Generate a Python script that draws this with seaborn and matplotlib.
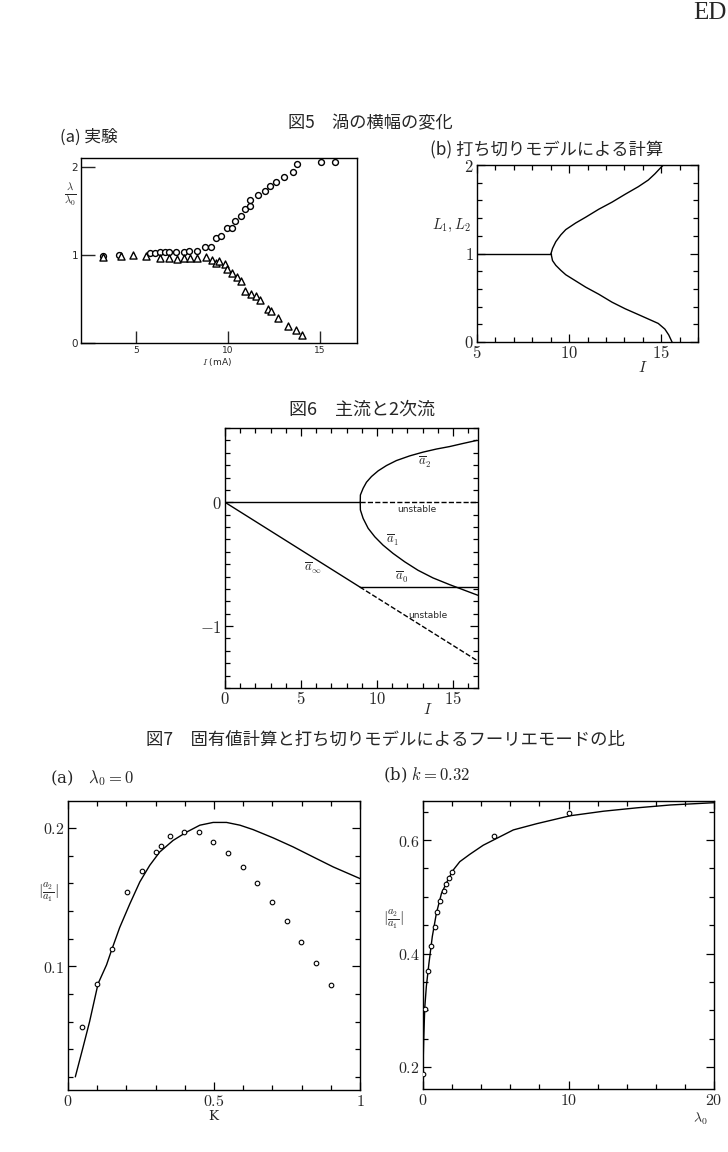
import numpy as np
import pandas as pd
import matplotlib
matplotlib.use("Agg")
import matplotlib.pyplot as plt
from matplotlib.ticker import MultipleLocator, FuncFormatter
import seaborn as sns

# ---- Fig.5 (a) experiment: vortex width ratio vs current ----
circ_I = [3.2, 4.05, 5.74, 6.0, 6.3, 6.55, 6.8, 7.15, 7.58, 7.86, 8.3, 8.73, 9.05,
          9.34, 9.63, 9.92, 10.2, 10.39, 10.68, 10.93, 11.2, 11.2, 11.61, 12.0,
          12.26, 12.58, 13.05, 13.52, 13.74, 15.07, 15.83]
circ_L = [0.99, 1.0, 1.02, 1.02, 1.03, 1.03, 1.03, 1.03, 1.03, 1.04, 1.04, 1.09, 1.09,
          1.19, 1.22, 1.30, 1.30, 1.38, 1.44, 1.52, 1.56, 1.62, 1.68, 1.72,
          1.78, 1.83, 1.89, 1.94, 2.03, 2.05, 2.05]
tri_I = [3.2, 4.15, 4.8, 5.52, 6.28, 6.78, 7.22, 7.6, 7.93, 8.33, 8.77, 9.12, 9.34,
         9.5, 9.81, 9.92, 10.2, 10.46, 10.68, 10.93, 11.25, 11.5, 11.72, 12.19,
         12.34, 12.69, 13.23, 13.67, 14.03]
tri_L = [0.98, 0.99, 1.0, 0.99, 0.96, 0.96, 0.95, 0.96, 0.97, 0.97, 0.98, 0.94, 0.91,
         0.93, 0.90, 0.84, 0.80, 0.75, 0.70, 0.59, 0.56, 0.53, 0.49, 0.39,
         0.36, 0.28, 0.19, 0.15, 0.09]

# ---- Fig.5 (b) truncated model ----
flat_I = [5.0, 9.02]
flat_L = [1.0, 1.0]
up_I = [9.02, 9.10, 9.28, 9.55, 9.82, 10.36, 10.90, 11.61, 12.33, 13.05, 13.76,
        14.30, 14.66, 14.93, 15.12]
up_L = [1.0, 1.057, 1.134, 1.21, 1.27, 1.345, 1.41, 1.50, 1.58, 1.67, 1.755,
        1.83, 1.90, 1.96, 2.0]
lo_I = [9.02, 9.10, 9.28, 9.55, 9.82, 10.36, 10.90, 11.61, 12.33, 13.05, 13.76,
        14.30, 14.84, 15.2, 15.41, 15.59]
lo_L = [1.0, 0.92, 0.866, 0.81, 0.76, 0.69, 0.62, 0.54, 0.45, 0.375, 0.31,
        0.26, 0.21, 0.146, 0.08, 0.0]

# ---- Fig.6 main flow and secondary flow ----
zero_I = [0.0, 8.9]
zero_unst_I = [8.9, 16.65]
ainf_I = [0.0, 8.87]
ainf_a = [0.0, -0.684]
ainf_unst_I = [8.87, 16.65]
ainf_unst_a = [-0.684, -1.283]
a0_I = [8.87, 16.65]
a0_a = [-0.684, -0.684]
a2_I = [8.9, 8.91, 9.09, 9.31, 9.64, 10.08, 10.63, 11.28, 12.16, 13.03, 13.91,
        14.78, 15.66, 16.58]
a2_a = [0.0, 0.059, 0.113, 0.162, 0.208, 0.254, 0.297, 0.337, 0.375, 0.405, 0.43,
        0.45, 0.475, 0.50]
a1_I = [8.9, 8.91, 9.09, 9.42, 9.86, 10.4, 11.06, 11.83, 12.7, 13.69, 14.78,
        15.88, 16.64]
a1_a = [0.0, -0.062, -0.13, -0.21, -0.279, -0.346, -0.413, -0.481, -0.549, -0.611,
        -0.665, -0.716, -0.751]

# ---- Fig.7 (a) lambda0 = 0 ----
K_curve = [0.025, 0.051, 0.074, 0.103, 0.132, 0.149, 0.177, 0.2115, 0.246, 0.280,
           0.314, 0.36, 0.406, 0.4515, 0.497, 0.543, 0.589, 0.634, 0.703, 0.771,
           0.840, 0.9085, 1.0]
ra_curve = [0.02, 0.041, 0.06, 0.0874, 0.101, 0.1115, 0.128, 0.145, 0.161, 0.173,
            0.1826, 0.191, 0.197, 0.202, 0.204, 0.204, 0.202, 0.1988, 0.1928, 0.1863,
            0.179, 0.1718, 0.1634]
K_pts = [0.049, 0.0995, 0.149, 0.202, 0.252, 0.30, 0.32, 0.349, 0.398, 0.448, 0.497,
         0.549, 0.598, 0.648, 0.698, 0.749, 0.799, 0.849, 0.902]
ra_pts = [0.056, 0.0874, 0.1125, 0.154, 0.169, 0.1827, 0.187, 0.1942, 0.197, 0.197, 0.190,
          0.182, 0.1716, 0.160, 0.1467, 0.1327, 0.1178, 0.102, 0.0862]

# ---- Fig.7 (b) k = 0.32 ----
lam_curve = [0.0, 0.05, 0.12, 0.23, 0.41, 0.64, 0.92, 1.27, 1.66, 2.07, 2.53, 3.22,
             4.14, 5.06, 6.21, 7.82, 10.12, 12.41, 14.72, 17.01, 20.0]
rb_curve = [0.20, 0.25, 0.304, 0.342, 0.383, 0.43, 0.471, 0.506, 0.527, 0.547, 0.562,
            0.575, 0.591, 0.603, 0.618, 0.629, 0.643, 0.651, 0.657, 0.662, 0.666]
lam_pts = [0.0, 0.12, 0.35, 0.58, 0.81, 0.99, 1.2, 1.43, 1.61, 1.80, 2.0, 4.88, 10.05]
rb_pts = [0.188, 0.302, 0.37, 0.414, 0.447, 0.473, 0.493, 0.51, 0.523, 0.534, 0.544,
          0.608, 0.647]

W, H = 728, 1152
JP = ['Noto Sans CJK JP', 'DejaVu Sans']

sns.set_style('white')
plt.rcParams['font.family'] = ['DejaVu Serif', 'Noto Sans CJK JP']
plt.rcParams['mathtext.fontset'] = 'cm'
plt.rcParams['axes.linewidth'] = 1.0
plt.rcParams['axes.edgecolor'] = 'black'

fig = plt.figure(figsize=(W / 100, H / 100), dpi=100)
fig.patch.set_facecolor('white')


def add_ax(l, t, r, b):
    return fig.add_axes([l / W, 1 - b / H, (r - l) / W, (b - t) / H])


def ftext(x, y, s, **kw):
    fig.text(x / W, 1 - y / H, s, **kw)


cm_fmt = FuncFormatter(lambda v, p: '$%g$' % v)


def paper_ticks(ax, xmaj, xmin, ymaj, ymin, size=10.5):
    ax.xaxis.set_major_locator(MultipleLocator(xmaj))
    ax.xaxis.set_minor_locator(MultipleLocator(xmin))
    ax.yaxis.set_major_locator(MultipleLocator(ymaj))
    ax.yaxis.set_minor_locator(MultipleLocator(ymin))
    ax.tick_params(which='both', direction='in', top=True, right=True,
                   bottom=True, left=True, color='black', width=0.9,
                   labelsize=size, pad=2.5)
    ax.tick_params(which='major', length=6)
    ax.tick_params(which='minor', length=3.5)
    ax.xaxis.set_major_formatter(cm_fmt)
    ax.yaxis.set_major_formatter(cm_fmt)
    for s in ax.spines.values():
        s.set_visible(True)
        s.set_color('black')
    ax.set_xlabel('')
    ax.set_ylabel('')


def line(ax, x, y, ls='-'):
    df = pd.DataFrame({'x': x, 'y': y})
    sns.lineplot(data=df, x='x', y='y', ax=ax, color='black', lw=1.0,
                 linestyle=ls, sort=False, estimator=None)


# ---------------- Fig.5 ----------------
ftext(370, 123, '図5　渦の横幅の変化', ha='center', va='center', fontsize=12.4, family=JP)
ftext(60, 137, '(a) 実験', ha='left', va='center', fontsize=12, family=JP)
ftext(430, 150, '(b) 打ち切りモデルによる計算', ha='left', va='center', fontsize=12.4, family=JP)

ax = add_ax(81, 158, 357, 343)
sns.scatterplot(x=circ_I, y=circ_L, ax=ax, marker='o', s=18, color='white',
                edgecolor='black', linewidth=1.0, zorder=3)
sns.scatterplot(x=tri_I, y=tri_L, ax=ax, marker='^', s=26, color='white',
                edgecolor='black', linewidth=1.0, zorder=3)
ax.set_xlim(2, 17)
ax.set_ylim(0, 2.1)
ax.set_xticks([5, 10, 15])
ax.set_yticks([0, 1, 2])
ax.tick_params(direction='in', bottom=True, left=True, top=False, right=False,
               length=9, width=1.0, labelsize=6.5, pad=2,
               labelfontfamily='DejaVu Sans')
ax.tick_params(axis='y', length=10, labelsize=7.5)
for s in ax.spines.values():
    s.set_visible(True)
    s.set_color('black')
ax.set_xlabel('')
ax.set_ylabel('')
ftext(70, 195, r'$\frac{\lambda}{\lambda_0}$', ha='center', va='center', fontsize=11)
ftext(217, 362, r'$I$ (mA)', ha='center', va='center', fontsize=6.5, family='DejaVu Sans')

ax = add_ax(477, 165, 698, 342)
line(ax, flat_I, flat_L)
line(ax, up_I, up_L)
line(ax, lo_I, lo_L)
ax.set_xlim(5, 17)
ax.set_ylim(0, 2)
paper_ticks(ax, 5, 1, 1, 0.2, size=12)
ftext(452, 225, r'$L_1, L_2$', ha='center', va='center', fontsize=10.5)
ftext(643, 367, r'$I$', ha='center', va='center', fontsize=11)

# ---------------- Fig.6 ----------------
ftext(362, 410, '図6　主流と2次流', ha='center', va='center', fontsize=13, family=JP)
ax = add_ax(225, 428, 478, 688)
line(ax, zero_I, [0.0, 0.0])
line(ax, zero_unst_I, [0.0, 0.0], ls='--')
line(ax, ainf_I, ainf_a)
line(ax, ainf_unst_I, ainf_unst_a, ls='--')
line(ax, a0_I, a0_a)
line(ax, a2_I, a2_a)
line(ax, a1_I, a1_a)
ax.set_xlim(0, 16.65)
ax.set_ylim(-1.5, 0.6)
paper_ticks(ax, 5, 1, 1, 0.1, size=12)
ftext(428, 710, r'$I$', ha='center', va='center', fontsize=11)
ftext(425, 462, r'$\overline{a}_2$', ha='center', va='center', fontsize=9)
ftext(417, 509, 'unstable', ha='center', va='center', fontsize=6.5, family='DejaVu Sans')
ftext(392, 540, r'$\overline{a}_1$', ha='center', va='center', fontsize=9)
ftext(313, 568, r'$\overline{a}_\infty$', ha='center', va='center', fontsize=9)
ftext(402, 577, r'$\overline{a}_0$', ha='center', va='center', fontsize=9)
ftext(428, 616, 'unstable', ha='center', va='center', fontsize=6.5, family='DejaVu Sans')

# ---------------- Fig.7 ----------------
ftext(385, 740, '図7　固有値計算と打ち切りモデルによるフーリエモードの比', ha='center',
      va='center', fontsize=12.5, family=JP)
ftext(50, 778, r'(a)   $\lambda_0 = 0$', ha='left', va='center', fontsize=12)
ftext(383, 775, r'(b) $k = 0.32$', ha='left', va='center', fontsize=12)

ax = add_ax(68, 801, 360, 1090)
line(ax, K_curve, ra_curve)
sns.scatterplot(x=K_pts, y=ra_pts, ax=ax, marker='o', s=11, color='white',
                edgecolor='black', linewidth=0.8, zorder=3)
ax.set_xlim(0, 1)
ax.set_ylim(0.0105, 0.2195)
paper_ticks(ax, 0.5, 0.1, 0.1, 0.02, size=11.5)
ftext(48, 893, r'$|\frac{a_2}{a_1}|$', ha='center', va='center', fontsize=11)
ftext(213, 1116, 'K', ha='center', va='center', fontsize=9.5)

ax = add_ax(423, 801, 714, 1089)
line(ax, lam_curve, rb_curve)
sns.scatterplot(x=lam_pts, y=rb_pts, ax=ax, marker='o', s=11, color='white',
                edgecolor='black', linewidth=0.8, zorder=3)
ax.set_xlim(0, 20)
ax.set_ylim(0.161, 0.669)
paper_ticks(ax, 10, 2, 0.2, 0.05, size=11.5)
ftext(393, 920, r'$|\frac{a_2}{a_1}|$', ha='center', va='center', fontsize=11)
ftext(700, 1119, r'$\lambda_0$', ha='center', va='center', fontsize=10)

ftext(727, 2, 'ED', ha='right', va='top', fontsize=18, family='Liberation Serif')

fig.savefig('out.png', dpi=100, facecolor='white')
